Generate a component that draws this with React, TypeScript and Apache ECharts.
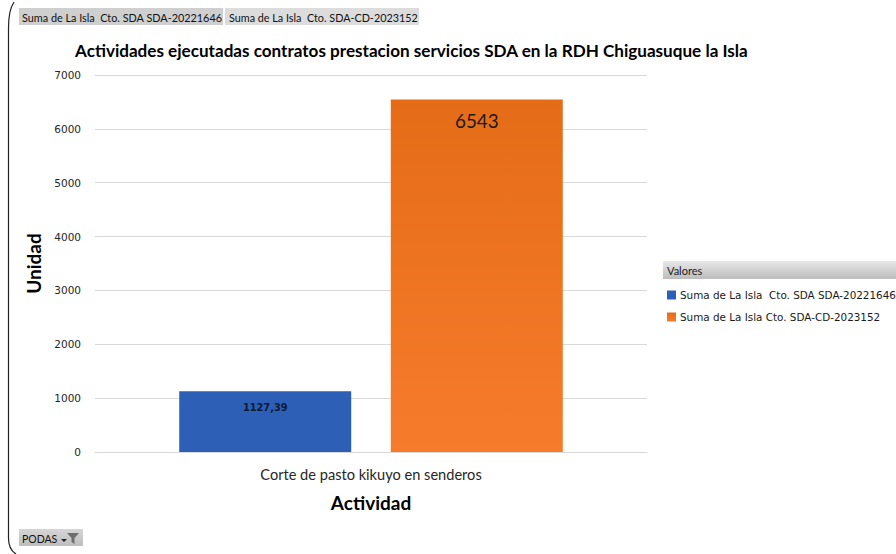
import React, { useEffect, useRef } from "react";
import * as echarts from "echarts";

const categories = ["Corte de pasto kikuyo en senderos"];
const seriesNames = ["Suma de La Isla  Cto. SDA SDA-20221646", "Suma de La Isla Cto. SDA-CD-2023152"];
const valuesSda = [1127.39];
const valuesCd = [6543];
const chartTitle = "Actividades ejecutadas contratos prestacion servicios SDA en la RDH Chiguasuque la Isla";
const filterLabels = ["Suma de La Isla  Cto. SDA SDA-20221646", "Suma de La Isla  Cto. SDA-CD-2023152"];

const FRAME = "M 14 2 C 10 8 8.5 16 8.5 28 L 8.5 538 C 8.5 546 11 551 16 554";
const FUNNEL = "M 0 0 L 12 0 L 7.5 5 L 7.5 11 L 4.5 9 L 4.5 5 Z";
(echarts.graphic as any).registerShape("frameLine", (echarts.graphic as any).extendPath(FRAME, {}));
(echarts.graphic as any).registerShape("funnel", (echarts.graphic as any).extendPath(FUNNEL, {}));

const grey = (from: string, to: string) =>
  new echarts.graphic.LinearGradient(0, 0, 0, 1, [
    { offset: 0, color: from },
    { offset: 1, color: to },
  ]);

export default function App() {
  const ref = useRef<HTMLDivElement>(null);
  useEffect(() => {
    document.body.style.margin = "0";
    const chart = echarts.init(ref.current!, undefined, { renderer: "svg" });
    const uiFont = "'DejaVu Sans'";
    const lato = "Lato";
    chart.setOption({
      animation: false,
      backgroundColor: "#ffffff",
      title: {
        text: chartTitle,
        left: 70,
        top: 37,
        textStyle: { fontFamily: lato, fontSize: 17.1, fontWeight: "bold", color: "#000000" },
      },
      grid: { left: 95, right: 249, top: 75, bottom: 102 },
      legend: {
        left: 667,
        top: 289,
        orient: "vertical",
        itemWidth: 9,
        itemHeight: 9,
        itemGap: 10,
        icon: "rect",
        padding: 0,
        textStyle: { fontFamily: uiFont, fontSize: 10.4, color: "#1a1a1a", padding: [0, 0, 0, -1], lineHeight: 12 },
      },
      xAxis: {
        type: "category",
        data: categories,
        name: "Actividad",
        nameLocation: "middle",
        nameGap: 41,
        nameTextStyle: { fontFamily: lato, fontSize: 19, fontWeight: "bold", color: "#000000" },
        axisLine: { lineStyle: { color: "#d9d9d9" } },
        axisTick: { show: false },
        axisLabel: { fontFamily: lato, fontSize: 14.6, color: "#262626", margin: 15 },
      },
      yAxis: {
        type: "value",
        min: 0,
        max: 7000,
        interval: 1000,
        name: "Unidad",
        nameLocation: "middle",
        nameGap: 41,
        nameTextStyle: { fontFamily: lato, fontSize: 19, fontWeight: "bold", color: "#000000" },
        axisLine: { show: false },
        axisTick: { show: false },
        axisLabel: {
          fontFamily: uiFont,
          fontSize: 10.5,
          color: "#262626",
          margin: 14,
          formatter: (v: number) => String(v),
        },
        splitLine: { lineStyle: { color: "#d9d9d9" } },
      },
      series: [
        {
          name: seriesNames[0],
          type: "bar",
          data: valuesSda,
          barWidth: 172,
          barGap: "23%",
          itemStyle: { color: "#2c5fb5" },
          label: {
            show: true,
            position: "insideTop",
            distance: 11,
            fontFamily: uiFont,
            fontSize: 9.8,
            fontWeight: "bold",
            color: "#0d1a33",
            formatter: (p: any) => String(p.value).replace(".", ","),
          },
        },
        {
          name: seriesNames[1],
          type: "bar",
          data: valuesCd,
          barWidth: 172,
          itemStyle: { color: grey("#e56c17", "#f67c2c") },
          label: {
            show: true,
            position: "insideTop",
            distance: 11,
            fontFamily: lato,
            fontSize: 18.8,
            color: "#1a1a1a",
          },
        },
      ],
      graphic: [
        { type: "frameLine", silent: true, style: { fill: "none", stroke: "#222222", lineWidth: 1.2 } },
        {
          type: "rect",
          shape: { x: 19, y: 8, width: 204, height: 17 },
          style: { fill: "#cfcfcf" },
        },
        {
          type: "rect",
          shape: { x: 225, y: 8, width: 194, height: 17 },
          style: { fill: "#dcdcdc" },
        },
        {
          type: "text",
          x: 22,
          y: 12,
          style: { text: filterLabels[0], fontFamily: lato, fontSize: 10.85, fill: "#111111" },
        },
        {
          type: "text",
          x: 229,
          y: 12,
          style: { text: filterLabels[1], fontFamily: lato, fontSize: 10.8, fill: "#111111" },
        },
        {
          type: "rect",
          shape: { x: 663, y: 261, width: 233, height: 18 },
          style: { fill: grey("#e8e8e8", "#bcbcbc") },
        },
        {
          type: "text",
          x: 667,
          y: 265,
          style: { text: "Valores", fontFamily: lato, fontSize: 11, fill: "#222222" },
        },
        {
          type: "rect",
          shape: { x: 19, y: 529, width: 64, height: 17 },
          style: { fill: grey("#d6d6d6", "#bdbdbd") },
        },
        {
          type: "text",
          x: 22,
          y: 533,
          style: { text: "PODAS", fontFamily: lato, fontSize: 10.5, fill: "#111111" },
        },
        {
          type: "polygon",
          shape: { points: [[61, 539], [67, 539], [64, 542]] },
          style: { fill: "#222222" },
        },
        { type: "funnel", x: 67, y: 533, style: { fill: "#6e6e6e" } },
      ],
    });
    return () => chart.dispose();
  }, []);
  return <div ref={ref} style={{ width: 896, height: 554 }} />;
}
